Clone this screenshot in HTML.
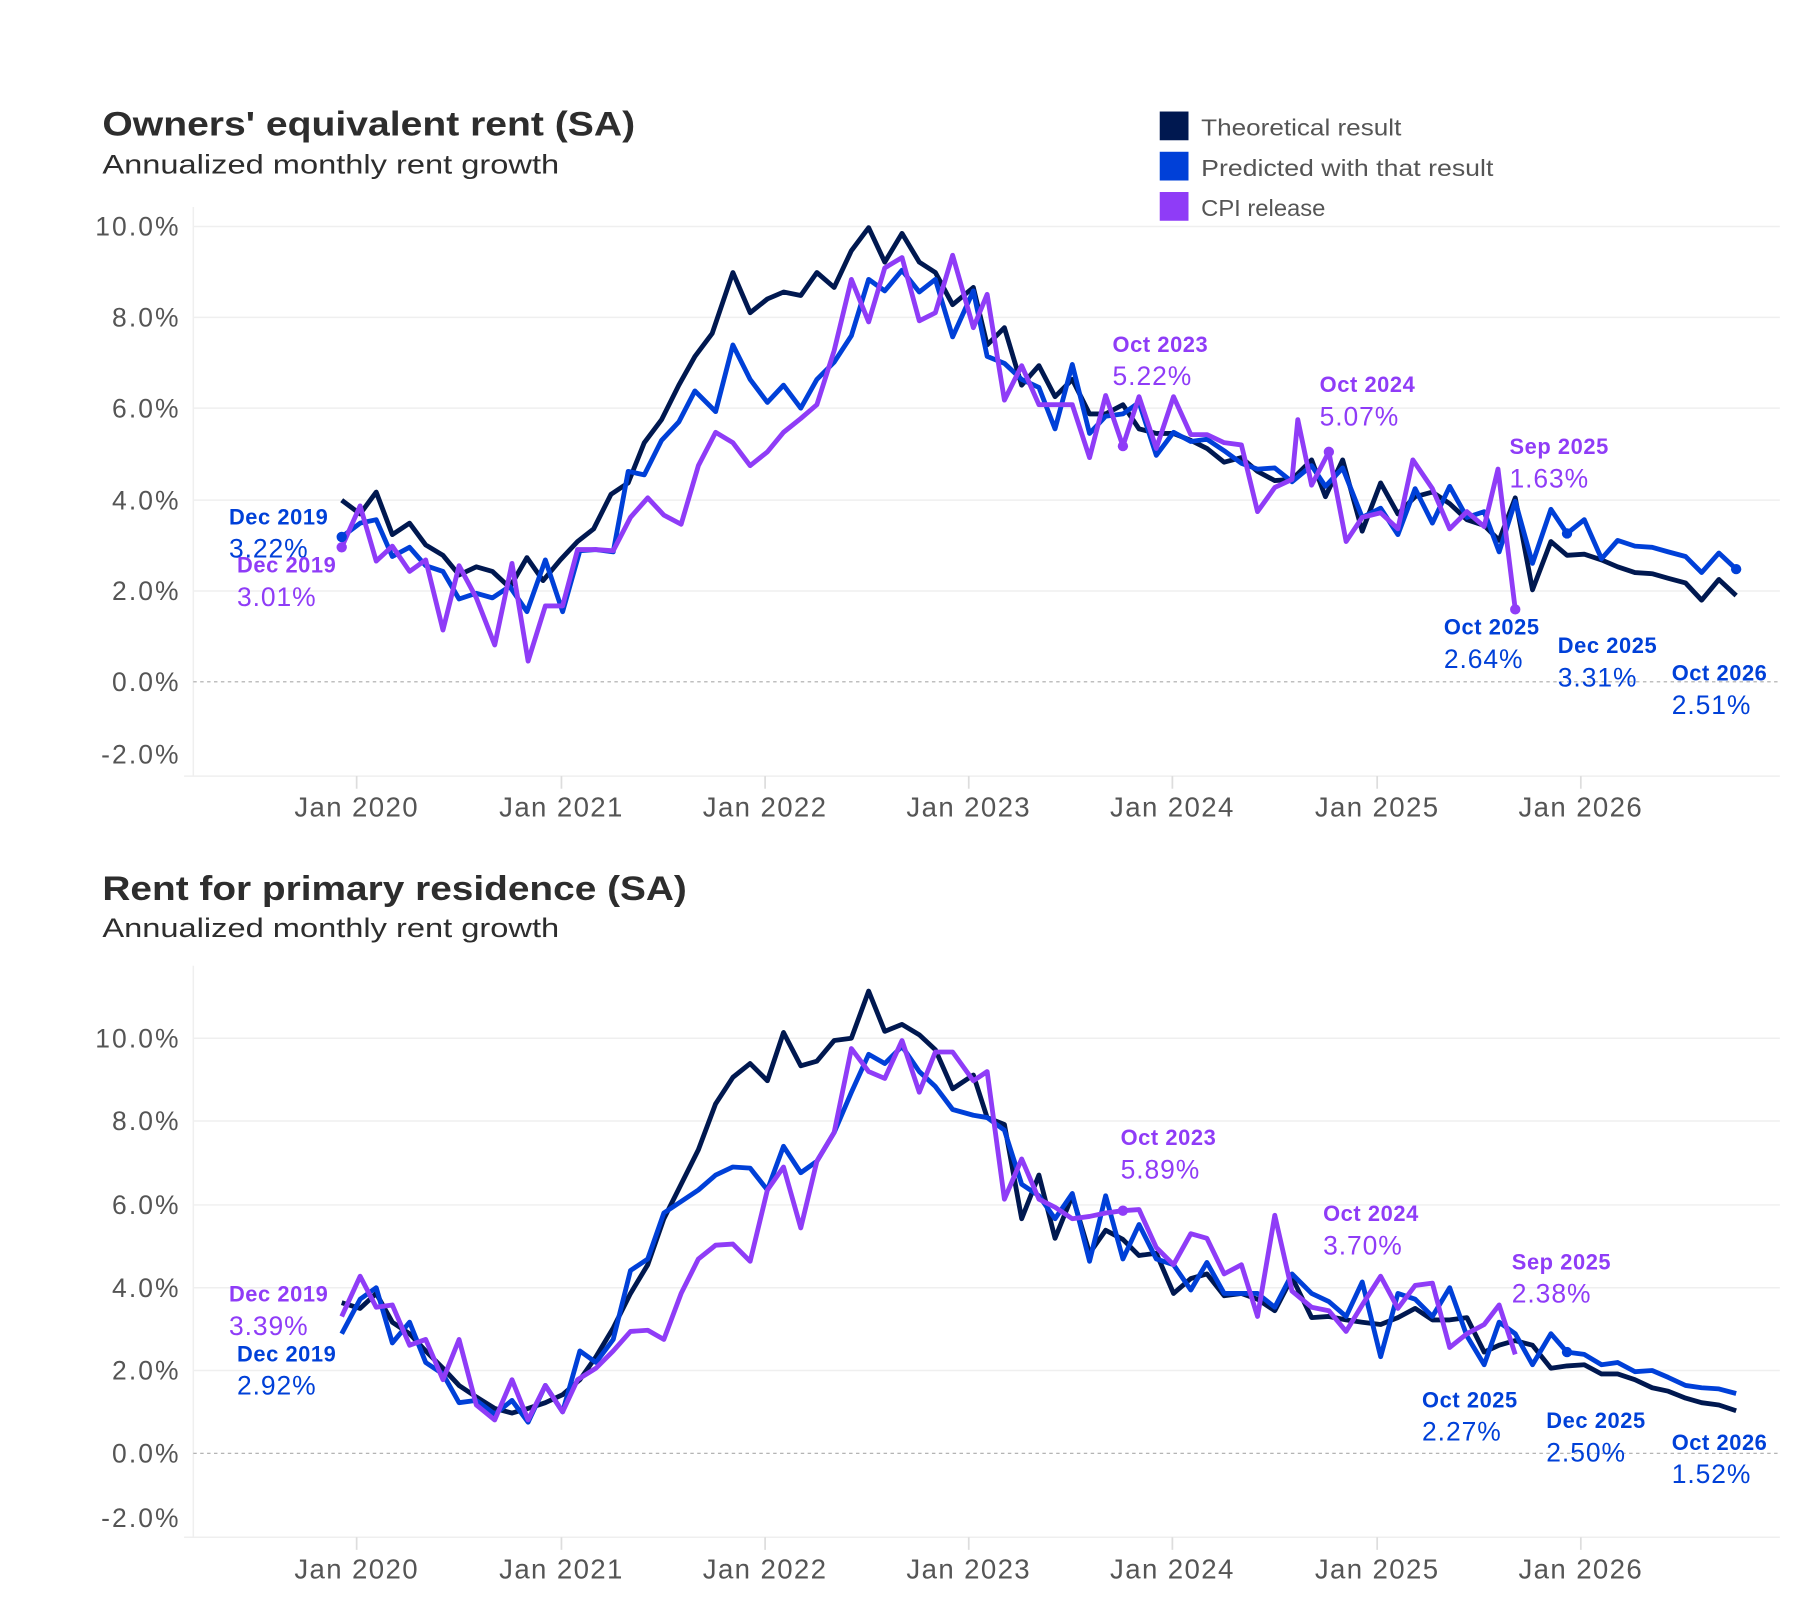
<!DOCTYPE html>
<html><head><meta charset="utf-8"><style>
html,body{margin:0;padding:0;background:#fff;width:1800px;height:1620px;overflow:hidden}
svg{display:block}
text{font-family:"Liberation Sans",sans-serif}
.t{font-size:30px;font-weight:bold;fill:#2d2d2d}
.s{font-size:23px;fill:#2d2d2d}
.yl{font-size:23px;fill:#555;text-anchor:end;letter-spacing:1.8px}
.xl{font-size:24px;fill:#555;text-anchor:middle;letter-spacing:1.2px}
.lg{font-size:20px;fill:#555}
.b{font-size:19px;font-weight:bold;letter-spacing:0.5px}
.v{font-size:23px;letter-spacing:0.8px}
.n{fill:none;stroke:#001850;stroke-width:4.2;stroke-linejoin:round}
.bl{fill:none;stroke:#0040d8;stroke-width:4.2;stroke-linejoin:round}
.p{fill:none;stroke:#8f3cf7;stroke-width:4.2;stroke-linejoin:round}
.g{stroke:#efefef;stroke-width:1.3}
</style></head><body>
<svg width="1800" height="1620" viewBox="0 0 1564.5 1409" preserveAspectRatio="none">
<!-- Legend -->
<rect x="1008" y="97" width="25" height="25" fill="#001850"/>
<rect x="1008" y="132" width="25" height="25" fill="#0040d8"/>
<rect x="1008" y="167" width="25" height="25" fill="#8f3cf7"/>
<text class="lg" x="1044" y="118" textLength="174" lengthAdjust="spacingAndGlyphs">Theoretical result</text>
<text class="lg" x="1044" y="153" textLength="254" lengthAdjust="spacingAndGlyphs">Predicted with that result</text>
<text class="lg" x="1044" y="188" textLength="108" lengthAdjust="spacingAndGlyphs">CPI release</text>

<!-- TOP CHART -->
<text class="t" x="89" y="118" textLength="463" lengthAdjust="spacingAndGlyphs">Owners' equivalent rent (SA)</text>
<text class="s" x="89" y="151" textLength="397" lengthAdjust="spacingAndGlyphs">Annualized monthly rent growth</text>
<g>
<line class="g" x1="168" y1="180" x2="168" y2="675"/>
<line class="g" x1="168" y1="197" x2="1547" y2="197"/>
<line class="g" x1="168" y1="276" x2="1547" y2="276"/>
<line class="g" x1="168" y1="355" x2="1547" y2="355"/>
<line class="g" x1="168" y1="435" x2="1547" y2="435"/>
<line class="g" x1="168" y1="514" x2="1547" y2="514"/>
<line x1="168" y1="593" x2="1547" y2="593" stroke="#aaa" stroke-width="1" stroke-dasharray="3,3"/>
<line class="g" x1="160" y1="675" x2="1547" y2="675" stroke-width="2"/>
<text class="yl" x="157" y="205">10.0%</text>
<text class="yl" x="157" y="284">8.0%</text>
<text class="yl" x="157" y="363">6.0%</text>
<text class="yl" x="157" y="443">4.0%</text>
<text class="yl" x="157" y="522">2.0%</text>
<text class="yl" x="157" y="601">0.0%</text>
<text class="yl" x="157" y="664">-2.0%</text>
<text class="xl" x="310" y="710">Jan 2020</text>
<text class="xl" x="488" y="710">Jan 2021</text>
<text class="xl" x="665" y="710">Jan 2022</text>
<text class="xl" x="842" y="710">Jan 2023</text>
<text class="xl" x="1019" y="710">Jan 2024</text>
<text class="xl" x="1197" y="710">Jan 2025</text>
<text class="xl" x="1374" y="710">Jan 2026</text>
<g stroke="#ddd" stroke-width="1.5">
<line x1="310" y1="675" x2="310" y2="686"/><line x1="488" y1="675" x2="488" y2="686"/><line x1="665" y1="675" x2="665" y2="686"/><line x1="842" y1="675" x2="842" y2="686"/><line x1="1019" y1="675" x2="1019" y2="686"/><line x1="1197" y1="675" x2="1197" y2="686"/><line x1="1374" y1="675" x2="1374" y2="686"/>
</g>
<polyline class="n" points="297,435 313,447 327,428 341,465 356,455 370,474 385,483 399,500 414,493 428,497 443,511 458,485 472,505 487,487 502,471 516,460 531,430 546,420 560,385 575,365 590,335 604,310 619,290 637,237 652,272 667,260 681,254 696,257 710,237 725,250 740,218 755,198 769,228 784,203 799,228 813,237 828,265 846,250 858,300 873,285 888,335 903,318 917,345 932,330 947,360 961,360 976,352 990,373 1005,377 1020,377 1035,383 1049,390 1064,402 1079,398 1093,410 1108,418 1123,417 1140,400 1152,432 1167,400 1184,462 1200,420 1215,447 1230,432 1245,428 1260,438 1275,452 1290,457 1303,470 1317,433 1332,513 1348,471 1362,483 1377,482 1392,487 1406,493 1421,498 1436,499 1450,503 1465,507 1479,522 1494,504 1509,518"/>
<polyline class="bl" points="297,467 313,455 327,452 341,484 356,476 370,492 385,497 399,521 414,516 428,520 443,510 458,532 474,487 489,532 504,479 518,478 533,480 546,410 560,413 575,383 590,367 604,340 622,358 637,300 652,330 667,350 681,335 696,355 710,330 725,315 740,292 755,243 769,253 784,235 799,254 813,243 828,293 846,253 858,310 873,316 888,330 903,337 917,373 932,317 947,377 961,362 976,360 990,350 1005,396 1020,376 1035,384 1049,382 1064,392 1079,403 1093,408 1108,407 1123,419 1140,405 1152,423 1167,407 1184,450 1200,442 1215,465 1230,425 1245,455 1260,423 1275,450 1290,445 1303,480 1317,436 1332,490 1348,443 1362,464 1377,452 1392,486 1406,470 1421,475 1436,476 1450,480 1465,484 1479,498 1494,481 1509,495"/>
<polyline class="p" points="297,476 313,440 327,488 341,475 356,497 370,487 385,548 399,492 414,520 430,561 445,490 459,575 474,527 489,527 502,478 518,478 533,479 548,450 563,433 577,448 592,456 607,405 622,376 637,385 652,405 667,393 681,376 696,364 710,352 725,305 740,243 755,280 769,233 784,224 799,279 813,272 828,222 846,285 858,256 873,348 888,318 903,352 917,352 932,352 947,398 961,344 976,388 990,345 1005,390 1020,345 1035,378 1049,378 1064,385 1079,387 1093,445 1108,424 1123,417 1128,365 1140,422 1155,393 1170,471 1184,450 1200,446 1215,460 1228,400 1245,425 1260,460 1275,445 1290,458 1302,408 1317,530"/>
<g fill="#0040d8"><circle cx="297" cy="467" r="4.5"/><circle cx="1362" cy="464" r="4.5"/><circle cx="1509" cy="495" r="4.5"/></g>
<g fill="#8f3cf7"><circle cx="297" cy="476" r="4.5"/><circle cx="976" cy="388" r="4.5"/><circle cx="1155" cy="393" r="4.5"/><circle cx="1317" cy="530" r="4.5"/></g>
<g fill="#0040d8">
<text class="b" x="199" y="456">Dec 2019</text><text class="v" x="199" y="485">3.22%</text>
<text class="b" x="1255" y="552">Oct 2025</text><text class="v" x="1255" y="581">2.64%</text>
<text class="b" x="1354" y="568">Dec 2025</text><text class="v" x="1354" y="597">3.31%</text>
<text class="b" x="1453" y="592">Oct 2026</text><text class="v" x="1453" y="621">2.51%</text>
</g>
<g fill="#8f3cf7">
<text class="b" x="206" y="498">Dec 2019</text><text class="v" x="206" y="527">3.01%</text>
<text class="b" x="967" y="306">Oct 2023</text><text class="v" x="967" y="335">5.22%</text>
<text class="b" x="1147" y="341">Oct 2024</text><text class="v" x="1147" y="370">5.07%</text>
<text class="b" x="1312" y="395">Sep 2025</text><text class="v" x="1312" y="424">1.63%</text>
</g>
</g>

<!-- BOTTOM CHART -->
<text class="t" x="89" y="783" textLength="508" lengthAdjust="spacingAndGlyphs">Rent for primary residence (SA)</text>
<text class="s" x="89" y="815" textLength="397" lengthAdjust="spacingAndGlyphs">Annualized monthly rent growth</text>
<g>
<line class="g" x1="168" y1="840" x2="168" y2="1337"/>
<line class="g" x1="168" y1="903" x2="1547" y2="903"/>
<line class="g" x1="168" y1="975" x2="1547" y2="975"/>
<line class="g" x1="168" y1="1048" x2="1547" y2="1048"/>
<line class="g" x1="168" y1="1120" x2="1547" y2="1120"/>
<line class="g" x1="168" y1="1192" x2="1547" y2="1192"/>
<line x1="168" y1="1264" x2="1547" y2="1264" stroke="#aaa" stroke-width="1" stroke-dasharray="3,3"/>
<line class="g" x1="160" y1="1337" x2="1547" y2="1337" stroke-width="2"/>
<text class="yl" x="157" y="911">10.0%</text>
<text class="yl" x="157" y="983">8.0%</text>
<text class="yl" x="157" y="1056">6.0%</text>
<text class="yl" x="157" y="1128">4.0%</text>
<text class="yl" x="157" y="1200">2.0%</text>
<text class="yl" x="157" y="1272">0.0%</text>
<text class="yl" x="157" y="1328">-2.0%</text>
<text class="xl" x="310" y="1373">Jan 2020</text>
<text class="xl" x="488" y="1373">Jan 2021</text>
<text class="xl" x="665" y="1373">Jan 2022</text>
<text class="xl" x="842" y="1373">Jan 2023</text>
<text class="xl" x="1019" y="1373">Jan 2024</text>
<text class="xl" x="1197" y="1373">Jan 2025</text>
<text class="xl" x="1374" y="1373">Jan 2026</text>
<g stroke="#ddd" stroke-width="1.5">
<line x1="310" y1="1337" x2="310" y2="1348"/><line x1="488" y1="1337" x2="488" y2="1348"/><line x1="665" y1="1337" x2="665" y2="1348"/><line x1="842" y1="1337" x2="842" y2="1348"/><line x1="1019" y1="1337" x2="1019" y2="1348"/><line x1="1197" y1="1337" x2="1197" y2="1348"/><line x1="1374" y1="1337" x2="1374" y2="1348"/>
</g>
<polyline class="n" points="297,1133 313,1138 327,1125 341,1150 356,1160 370,1175 385,1190 399,1205 414,1215 430,1225 445,1229 459,1225 474,1220 489,1213 504,1200 518,1180 533,1155 548,1125 563,1100 577,1060 592,1030 607,1000 622,960 637,937 652,925 667,940 681,898 696,927 710,923 725,905 740,903 755,862 769,897 784,891 799,900 813,913 828,947 846,935 858,972 873,978 888,1060 903,1022 917,1077 932,1040 947,1090 961,1070 976,1078 990,1092 1005,1090 1020,1125 1035,1112 1049,1108 1064,1127 1079,1125 1093,1130 1108,1140 1123,1111 1140,1146 1155,1145 1170,1148 1184,1150 1200,1152 1215,1146 1230,1138 1245,1148 1260,1148 1275,1146 1290,1176 1303,1170 1317,1166 1332,1170 1348,1190 1362,1188 1377,1187 1392,1195 1406,1195 1421,1200 1436,1207 1450,1210 1465,1216 1479,1220 1494,1222 1509,1227"/>
<polyline class="bl" points="297,1160 313,1130 327,1120 341,1168 356,1150 370,1185 385,1195 399,1220 414,1218 430,1230 445,1218 459,1237 474,1205 489,1228 504,1175 518,1185 533,1165 548,1105 563,1095 577,1055 592,1045 607,1035 622,1022 637,1015 652,1016 667,1035 681,997 696,1020 710,1010 725,985 740,950 755,917 769,925 784,910 799,932 813,945 828,965 846,970 858,972 873,983 888,1030 903,1040 917,1060 932,1038 947,1097 961,1040 976,1095 990,1065 1005,1095 1020,1100 1035,1122 1049,1098 1064,1125 1079,1125 1093,1125 1108,1137 1123,1108 1140,1125 1155,1132 1170,1145 1184,1115 1200,1180 1215,1125 1230,1130 1245,1145 1260,1120 1275,1162 1290,1187 1303,1150 1317,1160 1332,1187 1348,1160 1362,1176 1377,1178 1392,1187 1406,1185 1421,1193 1436,1192 1450,1198 1465,1205 1479,1207 1494,1208 1509,1212"/>
<polyline class="p" points="297,1145 313,1110 327,1137 341,1135 356,1170 370,1165 385,1200 399,1165 414,1222 430,1235 445,1200 459,1235 474,1205 489,1228 502,1200 518,1190 533,1175 548,1158 563,1157 577,1165 592,1125 607,1095 622,1083 637,1082 652,1097 667,1035 681,1015 696,1068 710,1010 725,985 740,912 755,932 769,938 784,905 799,950 813,915 828,915 846,940 858,932 873,1043 888,1008 903,1043 917,1050 932,1060 947,1058 961,1055 976,1053 990,1052 1005,1085 1020,1100 1035,1073 1049,1077 1064,1108 1079,1100 1093,1145 1108,1057 1123,1123 1140,1137 1155,1140 1170,1158 1184,1135 1200,1110 1215,1138 1230,1118 1245,1116 1260,1172 1275,1160 1290,1152 1303,1135 1317,1178"/>
<g fill="#0040d8"><circle cx="1362" cy="1176" r="4.5"/></g>
<g fill="#8f3cf7"><circle cx="976" cy="1053" r="4.5"/></g>
<g fill="#0040d8">
<text class="b" x="206" y="1184">Dec 2019</text><text class="v" x="206" y="1213">2.92%</text>
<text class="b" x="1236" y="1224">Oct 2025</text><text class="v" x="1236" y="1253">2.27%</text>
<text class="b" x="1344" y="1242">Dec 2025</text><text class="v" x="1344" y="1271">2.50%</text>
<text class="b" x="1453" y="1261">Oct 2026</text><text class="v" x="1453" y="1290">1.52%</text>
</g>
<g fill="#8f3cf7">
<text class="b" x="199" y="1132">Dec 2019</text><text class="v" x="199" y="1161">3.39%</text>
<text class="b" x="974" y="996">Oct 2023</text><text class="v" x="974" y="1025">5.89%</text>
<text class="b" x="1150" y="1062">Oct 2024</text><text class="v" x="1150" y="1091">3.70%</text>
<text class="b" x="1314" y="1104">Sep 2025</text><text class="v" x="1314" y="1133">2.38%</text>
</g>
</g>
</svg>
</body></html>
